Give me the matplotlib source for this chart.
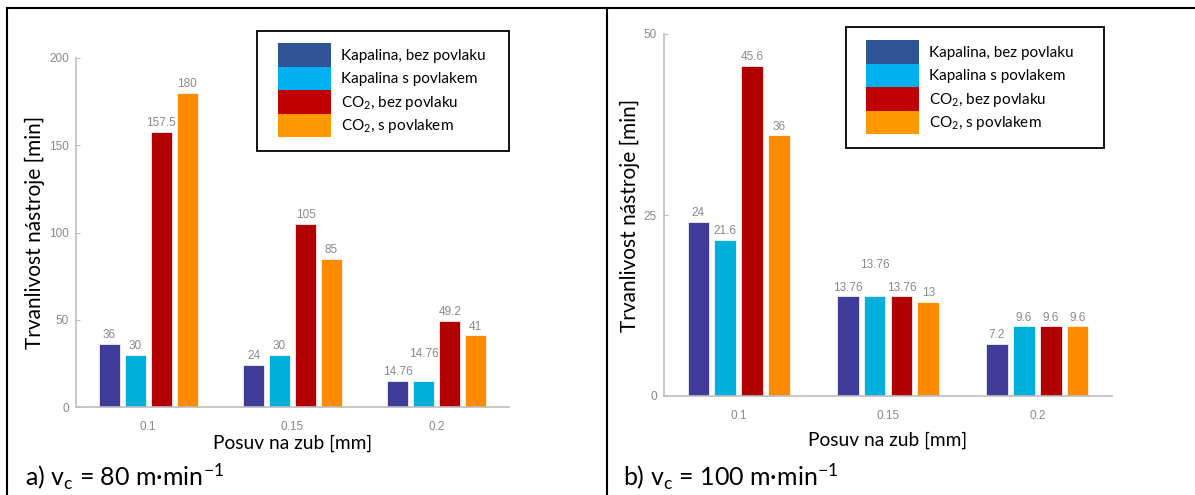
import numpy as np
import matplotlib
matplotlib.use("Agg")
import matplotlib.pyplot as plt
from matplotlib.patches import Patch, Rectangle
from matplotlib.lines import Line2D

plt.rcParams['font.family'] = ['Lato', 'DejaVu Sans']
plt.rcParams['mathtext.fontset'] = 'custom'
plt.rcParams['mathtext.rm'] = 'Lato'
plt.rcParams['mathtext.it'] = 'Lato:italic'

# data
posuv = ["0.1", "0.15", "0.2"]
serie = ["Kapalina, bez povlaku", "Kapalina s povlakem",
         "CO$_2$, bez povlaku", "CO$_2$, s povlakem"]

# a) vc = 80 m/min
a_kap_bez = [36, 24, 14.76]
a_kap_s = [30, 30, 14.76]
a_co2_bez = [157.5, 105, 49.2]
a_co2_s = [180, 85, 41]

# b) vc = 100 m/min
b_kap_bez = [24, 13.76, 7.2]
b_kap_s = [21.6, 13.76, 9.6]
b_co2_bez = [45.6, 13.76, 9.6]
b_co2_s = [36, 13, 9.6]

barvy = ["#3f3c99", "#00b0da", "#b00000", "#ff8c00"]
barvy_leg = ["#2f5597", "#00b0f0", "#c00000", "#ff9900"]
seda = "#8a8a8a"

fig = plt.figure(figsize=(11.95, 4.95), dpi=100)
W, H = 1195, 495


def fx(px):
    return px / W


def fy(py):
    return 1 - py / H


def graf(ax, data, ymax, yticks, zvednout):
    x = np.arange(len(posuv))
    sirka = 0.145
    posuny = [-0.27, -0.09, 0.09, 0.27]
    for i, hodnoty in enumerate(data):
        ax.bar(x + posuny[i], hodnoty, sirka, color=barvy[i], edgecolor="white", linewidth=0.5)
        for j, v in enumerate(hodnoty):
            dy = 2
            if (i, j) == zvednout[0]:
                dy = zvednout[1]
            ax.annotate(f"{v:g}", (x[j] + posuny[i], v), xytext=(0, dy),
                        textcoords="offset points", ha="center", va="bottom",
                        fontsize=8.5, color=seda, family="Liberation Sans")
    ax.set_xlim(-0.5, 2.5)
    ax.set_ylim(0, ymax)
    ax.set_xticks(x)
    ax.set_xticklabels(posuv)
    ax.set_yticks(yticks)
    for s in ["top", "right"]:
        ax.spines[s].set_visible(False)
    for s in ["left", "bottom"]:
        ax.spines[s].set_color("#bdbdbd")
        ax.spines[s].set_linewidth(1.2)
    ax.tick_params(axis="x", length=0, pad=10, labelsize=8.5, labelcolor=seda)
    ax.tick_params(axis="y", direction="in", length=3, color="#bdbdbd",
                   labelsize=8.5, labelcolor=seda, pad=5)
    for t in ax.get_xticklabels() + ax.get_yticklabels():
        t.set_family("Liberation Sans")
    ax.set_xlabel("Posuv na zub [mm]", fontsize=13.8)
    ax.set_ylabel("Trvanlivost nástroje [min]", fontsize=15)


# left panel
ax1 = fig.add_axes([fx(76), fy(407), fx(509 - 76), (407 - 58) / H])
graf(ax1, [a_kap_bez, a_kap_s, a_co2_bez, a_co2_s], 200, [0, 50, 100, 150, 200], ((1, 2), 15))
ax1.yaxis.set_label_coords(-0.072, 0.5)
ax1.xaxis.set_label_coords(0.5, -0.080)

# right panel
ax2 = fig.add_axes([fx(664), fy(396), fx(1112 - 664), (396 - 34) / H])
graf(ax2, [b_kap_bez, b_kap_s, b_co2_bez, b_co2_s], 50, [0, 25, 50], ((1, 1), 18))
ax2.yaxis.set_label_coords(-0.054, 0.5)
ax2.xaxis.set_label_coords(0.5, -0.099)

# legends
handles = [Patch(facecolor=c, edgecolor="none") for c in barvy_leg]
for (bx0, by0, bx1, by1), (px, py) in [((257, 31, 509, 151), (278, 43)),
                                        ((846, 27, 1104, 148), (866, 40))]:
    fig.patches.append(Rectangle((fx(bx0), fy(by1)), fx(bx1 - bx0), (by1 - by0) / H,
                                 transform=fig.transFigure, fill=False,
                                 edgecolor="black", linewidth=1.3))
    fig.legend(handles, serie, loc="upper left", bbox_to_anchor=(fx(px), fy(py)),
               frameon=False, fontsize=11, handlelength=3.5, handleheight=2.0,
               labelspacing=0, handletextpad=0.6, borderpad=0, borderaxespad=0)

# captions
fig.text(fx(25), fy(486), "a) v$_\\mathrm{c}$ = 80 m·min$^{-1}$", fontsize=18, va="baseline")
fig.text(fx(623), fy(486), "b) v$_\\mathrm{c}$ = 100 m·min$^{-1}$", fontsize=18, va="baseline")

# frame lines
for xs, ys in [([7, 1195], [8, 8]), ([7, 7], [8, 495]), ([607, 607], [8, 495])]:
    fig.add_artist(Line2D([fx(v) for v in xs], [fy(v) for v in ys],
                          transform=fig.transFigure, color="black", linewidth=1.5))

fig.savefig("out.png", dpi=100)
